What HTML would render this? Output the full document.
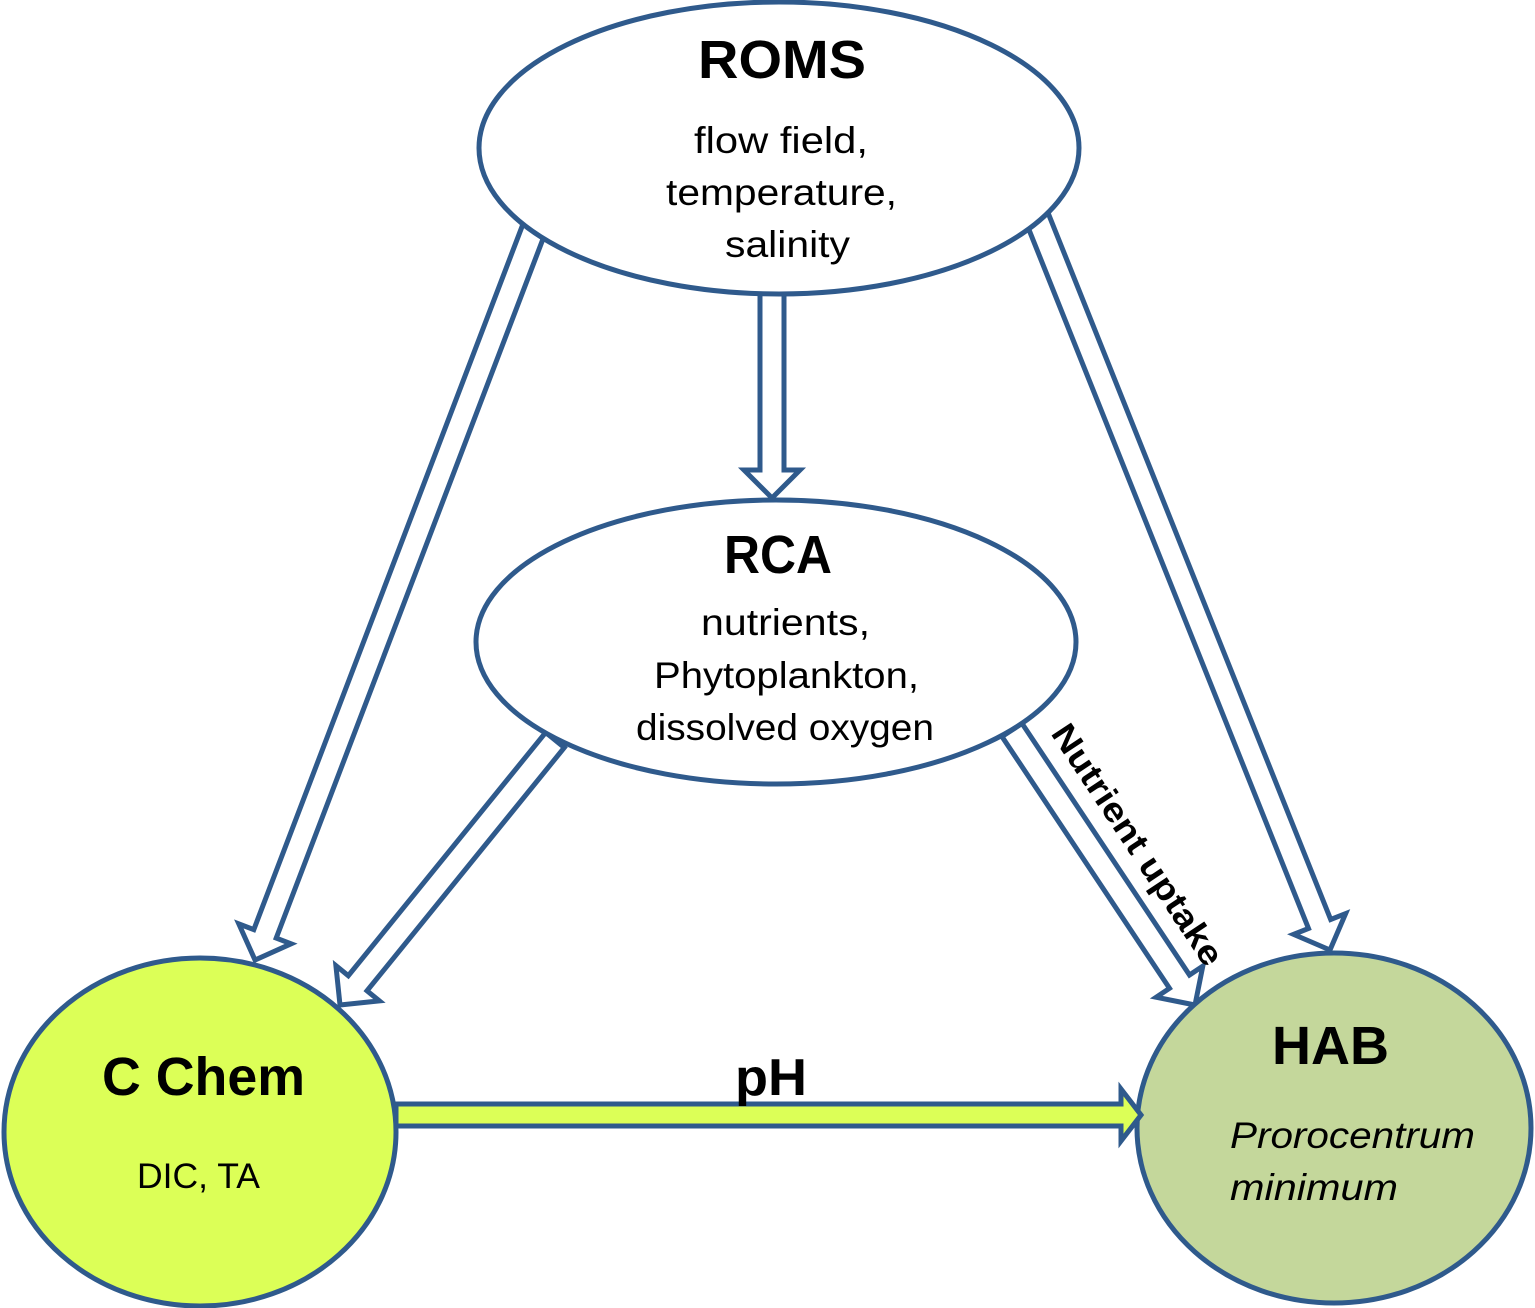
<!DOCTYPE html>
<html><head><meta charset="utf-8"><style>
html,body{margin:0;padding:0;background:#fff;}
svg{display:block;}
text{font-family:"Liberation Sans",sans-serif;fill:#000;}
</style></head><body>
<svg id="s" width="1535" height="1308" viewBox="0 0 1535 1308" xmlns="http://www.w3.org/2000/svg">
<g id="arrows"></g>
<ellipse cx="779" cy="148" rx="300" ry="146" fill="#fff" stroke="#2f5a8c" stroke-width="5"/>
<ellipse cx="776" cy="642" rx="300" ry="142" fill="#fff" stroke="#2f5a8c" stroke-width="5"/>
<ellipse cx="200" cy="1132" rx="196" ry="174" fill="#dcff57" stroke="#2f5a8c" stroke-width="5"/>
<ellipse cx="1334" cy="1128" rx="197" ry="175" fill="#c4d79b" stroke="#2f5a8c" stroke-width="5"/>
<g id="ph"></g>
<text x="698" y="78" font-size="54" font-weight="bold" textLength="168" lengthAdjust="spacingAndGlyphs">ROMS</text>
<text x="694" y="153" font-size="37" textLength="174" lengthAdjust="spacingAndGlyphs">flow field,</text>
<text x="666" y="205" font-size="37" textLength="231" lengthAdjust="spacingAndGlyphs">temperature,</text>
<text x="725" y="257" font-size="37" textLength="125" lengthAdjust="spacingAndGlyphs">salinity</text>
<text x="724" y="573" font-size="54" font-weight="bold" textLength="108" lengthAdjust="spacingAndGlyphs">RCA</text>
<text x="701" y="635" font-size="37" textLength="169" lengthAdjust="spacingAndGlyphs">nutrients,</text>
<text x="654" y="688" font-size="37" textLength="265" lengthAdjust="spacingAndGlyphs">Phytoplankton,</text>
<text x="636" y="740" font-size="37" textLength="298" lengthAdjust="spacingAndGlyphs">dissolved oxygen</text>
<text x="102" y="1095" font-size="54" font-weight="bold" textLength="203" lengthAdjust="spacingAndGlyphs">C Chem</text>
<text x="137" y="1188" font-size="35" textLength="123" lengthAdjust="spacingAndGlyphs">DIC, TA</text>
<text x="1272" y="1064" font-size="54" font-weight="bold" textLength="117" lengthAdjust="spacingAndGlyphs">HAB</text>
<text x="1230" y="1148" font-size="37" font-style="italic" textLength="245" lengthAdjust="spacingAndGlyphs">Prorocentrum</text>
<text x="1230" y="1200" font-size="37" font-style="italic" textLength="168" lengthAdjust="spacingAndGlyphs">minimum</text>
<text x="735" y="1095" font-size="52" font-weight="bold" textLength="72" lengthAdjust="spacingAndGlyphs">pH</text>
<text x="0" y="0" font-size="34" font-weight="bold" text-anchor="middle" textLength="282" lengthAdjust="spacingAndGlyphs" transform="translate(1128,851) rotate(56.5)">Nutrient uptake</text>
</svg>
<script>
function arrow(x1,y1,x2,y2,sw,hw,hl){
  var dx=x2-x1,dy=y2-y1,L=Math.hypot(dx,dy),ux=dx/L,uy=dy/L,px=-uy,py=ux;
  var bx=x2-ux*hl,by=y2-uy*hl;
  var p=[[x1+px*sw,y1+py*sw],[bx+px*sw,by+py*sw],[bx+px*hw,by+py*hw],[x2,y2],[bx-px*hw,by-py*hw],[bx-px*sw,by-py*sw],[x1-px*sw,y1-py*sw]];
  return p.map(function(q){return q[0].toFixed(1)+","+q[1].toFixed(1)}).join(" ");
}
var g=document.getElementById("arrows"),s="";
var A=[[545,200,255,960],[772,260,772,498],[1030,200,1330,950],[555,740,340,1005],[1012,730,1195,1005]];
A.forEach(function(a){
  s+='<polygon points="'+arrow(a[0],a[1],a[2],a[3],12,28,28)+'" fill="#fff" stroke="#2f5a8c" stroke-width="5" stroke-linejoin="miter"/>';
});
g.innerHTML=s;
document.getElementById("ph").innerHTML='<polygon points="'+arrow(396,1115,1141,1115,11,26,20)+'" fill="#dcff57" stroke="#2f5a8c" stroke-width="5"/>';
</script>
</body></html>
